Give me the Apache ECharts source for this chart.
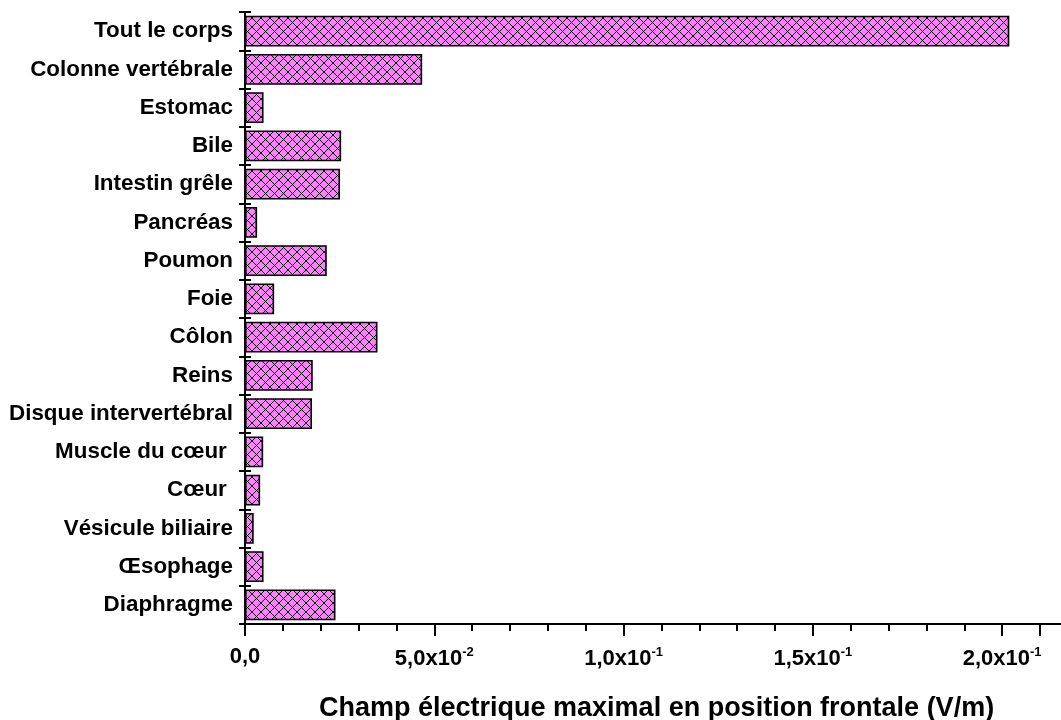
<!DOCTYPE html>
<html>
<head>
<meta charset="utf-8">
<script src="https://cdn.jsdelivr.net/npm/echarts@6/dist/echarts.min.js"></script>
<style>html,body{margin:0;padding:0;background:#fff;}#c{width:1061px;height:720px;}</style>
</head>
<body>
<div id="c"></div>
<script>
const categories = ['Tout le corps','Colonne vertébrale','Estomac','Bile','Intestin grêle','Pancréas','Poumon','Foie','Côlon','Reins','Disque intervertébral','Muscle du cœur ','Cœur ','Vésicule biliaire','Œsophage','Diaphragme'];
const values = [0.2019,0.0468,0.0049,0.0254,0.0251,0.0032,0.0216,0.0077,0.0350,0.0179,0.0177,0.0048,0.0040,0.0023,0.0049,0.0239];
const xTickValues = [0, 0.05, 0.1, 0.15, 0.2];
const xTickMantissa = ['0,0','5,0x10','1,0x10','1,5x10','2,0x10'];
const xTickExponent = ['','-2','-1','-1','-1'];
const xTitle = 'Champ électrique maximal en position frontale (V/m)';

const FONT = '"Liberation Sans", Arial, sans-serif';

const P = 9;
const pc = document.createElement('canvas');
pc.width = P; pc.height = P;
const pctx = pc.getContext('2d');
pctx.fillStyle = '#FF80FF';
pctx.fillRect(0,0,P,P);
pctx.strokeStyle = '#000';
pctx.lineWidth = 1;
pctx.beginPath();
pctx.moveTo(-1,-1); pctx.lineTo(P+1,P+1);
pctx.moveTo(P+1,-1); pctx.lineTo(-1,P+1);
pctx.stroke();

const chart = echarts.init(document.getElementById('c'), null, {renderer:'canvas'});
chart.setOption({
  animation:false,
  backgroundColor:'#fff',
  title:{
    text:xTitle, left:314, top:690,
    textStyle:{fontFamily:FONT, fontWeight:'bold', fontSize:27, color:'#000'}
  },
  grid:{left:245, right:21, top:12, bottom:96, containLabel:false},
  xAxis:{
    type:'value', min:0, max:0.21, interval:0.05,
    axisLine:{show:true, lineStyle:{color:'#000', width:2}},
    axisTick:{show:true, length:12, lineStyle:{color:'#000', width:2}},
    minorTick:{show:true, splitNumber:5, length:7, lineStyle:{color:'#000', width:2}},
    splitLine:{show:false},
    axisLabel:{
      margin:22, showMaxLabel:false,
      formatter:function(v){
        let i = xTickValues.findIndex(t=>Math.abs(t-v)<1e-9);
        if(i<0) return '';
        if(!xTickExponent[i]) return '{m|'+xTickMantissa[i]+'}';
        return '{m|'+xTickMantissa[i]+'}{e|'+xTickExponent[i]+'}';
      },
      rich:{
        m:{fontFamily:FONT, fontWeight:'bold', fontSize:22, color:'#000'},
        e:{fontFamily:FONT, fontWeight:'bold', fontSize:13, color:'#000', verticalAlign:'top', padding:[0,0,12,0]}
      }
    }
  },
  yAxis:[{
    type:'category', data:categories, inverse:true,
    axisLine:{show:true, lineStyle:{color:'#000', width:2}},
    axisTick:{show:true, length:6, alignWithLabel:false, lineStyle:{color:'#000', width:2}},
    axisLabel:{margin:12, fontFamily:FONT, fontWeight:'bold', fontSize:22.4, color:'#000'}
  },{
    type:'category', data:categories, inverse:true, position:'left',
    axisLine:{show:false},
    axisTick:{show:true, inside:true, length:6, lineStyle:{color:'#000', width:2}},
    axisLabel:{show:false}
  }],
  series:[{
    type:'bar', data:values, barWidth:'81%',
    itemStyle:{color:{image:pc, repeat:'repeat'}, borderColor:'#000', borderWidth:1.6}
  }]
});
const xEnd = chart.convertToPixel({xAxisIndex:0}, 0.21);
chart.setOption({
  graphic:[{type:'line', shape:{x1:xEnd, y1:624, x2:1061, y2:624}, style:{stroke:'#000', lineWidth:2}, z:10}]
});
</script>
</body>
</html>
